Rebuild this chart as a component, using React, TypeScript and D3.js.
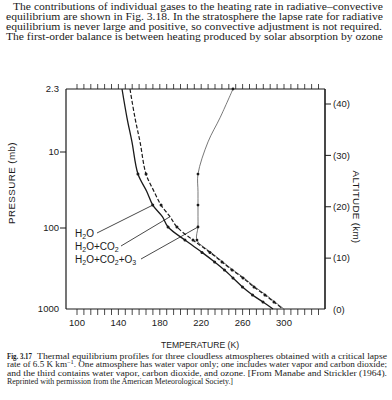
import React from "react";
import * as d3 from "d3";

// ---- data ----
const levels = [2.3, 4.5, 7.9, 19.5, 33, 50, 71, 97, 141, 200, 263, 330, 414, 535, 671, 820, 1000];
const tH2O = [143.5, 148.3, 153.1, 158.9, 167.4, 173.2, 182.5, 188.0, 204.3, 220.8, 233.0, 242.5, 250.7, 259.9, 269.6, 279.7, 289.4];
const tH2OCO2 = [151.2, 156.0, 160.9, 166.7, 174.4, 181.2, 189.9, 196.6, 212.1, 228.5, 240.1, 249.8, 260.4, 271.0, 281.6, 290.3, 299.0];
const tH2OCO2O3 = [250.7, 238.2, 226.6, 216.9, 216.9, 216.9, 216.9, 216.9, 215.9, 229.5, 241.1, 250.8, 261.4, 272.0, 282.6, 291.3, 300.0];
const dotLevels = [19.5, 50, 97, 141, 200, 263, 330, 414, 535, 671, 820];
const dotLevelsO3 = [2.3, 19.5, 50, 97, 141];

const tempLabels = [100, 140, 180, 220, 260, 300];
const pressureLabels = [2.3, 10, 100, 1000];
const pressureTickLabels = ["2.3", "10", "100", "1000"];
const altitudeLabels = [0, 10, 20, 30, 40];

const topText = [
  "The contributions of individual gases to the heating rate in radiative\u2013convective",
  "equilibrium are shown in Fig. 3.18. In the stratosphere the lapse rate for radiative",
  "equilibrium is never large and positive, so convective adjustment is not required.",
  "The first-order balance is between heating produced by solar absorption by ozone",
];

const SERIF = "'Liberation Serif', 'Times New Roman', serif";
const SANS = "'Liberation Sans', Arial, sans-serif";
const INK = "#1a1a1a";

export default function App() {
  const L = 66, R = 325, T = 89, B = 309;
  const x = d3.scaleLinear().domain([100, 300]).range([77, 284]);
  const y = d3.scaleLog().domain([1000, 100, 10, 2.3]).range([B, 228, 152, T]);
  const alt = d3.scaleLinear().domain([0, 40]).range([309.5, 104]);

  const minorTicks = d3.range(0, 36).map((i) => 100 + (i * 40) / 6);

  const line = d3
    .line<[number, number]>()
    .x((d) => x(d[0]))
    .y((d) => y(d[1]))
    .curve(d3.curveCatmullRom.alpha(0.5));

  const pts = (temps: number[]) => temps.map((t, i) => [t, levels[i]] as [number, number]);
  const sH2O = pts(tH2O);
  const sCO2 = pts(tH2OCO2);
  const sO3 = pts(tH2OCO2O3);

  const dots = (s: [number, number][], lv: number[]) =>
    s.filter((d) => lv.includes(d[1]));

  const at = (temps: number[], p: number) => [x(temps[levels.indexOf(p)]), y(p)];
  const [h2oX, h2oY] = at(tH2O, 50);
  const [co2X, co2Y] = at(tH2OCO2, 71);
  const [o3X, o3Y] = at(tH2OCO2O3, 97);

  return (
    <svg
      width={392}
      height={400}
      style={{ position: "absolute", left: 0, top: 0, background: "#fff" }}
    >
      <rect width={392} height={400} fill="#fff" />
      {/* top paragraph */}
      {topText.map((t, i) => (
        <text
          key={i}
          x={i === 0 ? 13 : 6}
          y={9.5 + i * 10.25}
          fontFamily={SERIF}
          fontSize={10.2}
          fill={INK}
          textLength={i === 0 ? 370 : i === 2 ? 376 : 377}
          lengthAdjust="spacingAndGlyphs"
        >
          {t}
        </text>
      ))}

      {/* frame */}
      <g stroke={INK} fill="none">
        <line x1={L} y1={T} x2={R} y2={T} strokeWidth={1.2} />
        <line x1={L} y1={B} x2={R} y2={B} strokeWidth={1.2} />
        <line x1={L} y1={T} x2={L} y2={B} strokeWidth={1.2} />
        <line x1={R} y1={T} x2={R} y2={B} strokeWidth={1.6} />
        {minorTicks.map((t, i) => (
          <g key={i}>
            <line x1={x(t)} x2={x(t)} y1={T} y2={T - 5} strokeWidth={0.8} />
            <line x1={x(t)} x2={x(t)} y1={B} y2={B + 6} strokeWidth={0.8} />
          </g>
        ))}
        {pressureLabels.slice(1, 3).map((p) => (
          <line key={p} x1={L - 6} x2={L} y1={y(p)} y2={y(p)} strokeWidth={1} />
        ))}
        {altitudeLabels.slice(1).map((a) => (
          <line key={a} x1={R} x2={R + 6} y1={alt(a)} y2={alt(a)} strokeWidth={1} />
        ))}
      </g>

      {/* axis labels */}
      <g fontFamily={SANS} fontSize={9.5} fill={INK}>
        {tempLabels.map((t) => (
          <text key={t} x={x(t)} y={B + 17} textAnchor="middle">
            {t}
          </text>
        ))}
        {pressureLabels.map((p, i) => (
          <text key={p} x={L - 7} y={y(p)} dy="0.35em" textAnchor="end">
            {pressureTickLabels[i]}
          </text>
        ))}
        {altitudeLabels.map((a) => (
          <text key={a} x={R + 8} y={alt(a)} dy="0.35em">
            ({a})
          </text>
        ))}
        <text x={200} y={348} textAnchor="middle" fontSize={8.6}>
          TEMPERATURE (K)
        </text>
        <text
          transform="translate(15,183) rotate(-90)"
          textAnchor="middle"
          fontSize={9.8}
          letterSpacing={0.4}
        >
          PRESSURE (mb)
        </text>
        <text
          transform="translate(353,207) rotate(90)"
          textAnchor="middle"
          fontSize={9.8}
          letterSpacing={0.3}
        >
          ALTITUDE (km)
        </text>
      </g>

      {/* profiles */}
      <path d={line(sO3) || ""} fill="none" stroke="#555" strokeWidth={0.8} />
      <path d={line(sH2O) || ""} fill="none" stroke={INK} strokeWidth={1.3} />
      <path
        d={line(sCO2) || ""}
        fill="none"
        stroke={INK}
        strokeWidth={1.2}
        strokeDasharray="4,2"
      />
      {dots(sH2O, dotLevels).map((d, i) => (
        <circle key={"a" + i} cx={x(d[0])} cy={y(d[1])} r={1.5} fill={INK} />
      ))}
      {dots(sCO2, dotLevels).map((d, i) => (
        <circle key={"b" + i} cx={x(d[0])} cy={y(d[1])} r={1.5} fill={INK} />
      ))}
      {dots(sO3, dotLevelsO3).map((d, i) => (
        <circle key={"c" + i} cx={x(d[0])} cy={y(d[1])} r={1.4} fill={INK} />
      ))}

      {/* leaders */}
      <g stroke={INK} strokeWidth={0.8}>
        <line x1={97} y1={233} x2={h2oX} y2={h2oY} />
        <line x1={121} y1={246} x2={co2X} y2={co2Y} />
        <line x1={141} y1={259} x2={o3X} y2={o3Y} />
      </g>
      <g fontFamily={SANS} fontSize={10} fill={INK}>
        <text x={75} y={237}>
          H<tspan fontSize={7} dy={2}>2</tspan>
          <tspan dy={-2}>O</tspan>
        </text>
        <text x={75} y={250}>
          H<tspan fontSize={7} dy={2}>2</tspan>
          <tspan dy={-2}>O+CO</tspan>
          <tspan fontSize={7} dy={2}>2</tspan>
        </text>
        <text x={75} y={263}>
          H<tspan fontSize={7} dy={2}>2</tspan>
          <tspan dy={-2}>O+CO</tspan>
          <tspan fontSize={7} dy={2}>2</tspan>
          <tspan dy={-2}>+O</tspan>
          <tspan fontSize={7} dy={2}>3</tspan>
        </text>
      </g>

      {/* caption */}
      <g fontFamily={SERIF} fontSize={8.6} fill={INK}>
        <text x={7} y={358.5} fontWeight="bold" textLength={25} lengthAdjust="spacingAndGlyphs">
          Fig. 3.17
        </text>
        <text x={37} y={358.5} textLength={350} lengthAdjust="spacingAndGlyphs">
          Thermal equilibrium profiles for three cloudless atmospheres obtained with a critical lapse
        </text>
        <text x={7} y={367} textLength={380} lengthAdjust="spacingAndGlyphs">
          rate of 6.5 K km<tspan dy={-3} fontSize={6}>{"\u22121"}</tspan>
          <tspan dy={3}>. One atmosphere has water vapor only; one includes water vapor and carbon dioxide;</tspan>
        </text>
        <text x={7} y={375.5} textLength={380} lengthAdjust="spacingAndGlyphs">
          and the third contains water vapor, carbon dioxide, and ozone. [From Manabe and Strickler (1964).
        </text>
        <text x={7} y={384} textLength={226} lengthAdjust="spacingAndGlyphs">
          Reprinted with permission from the American Meteorological Society.]
        </text>
      </g>
    </svg>
  );
}
